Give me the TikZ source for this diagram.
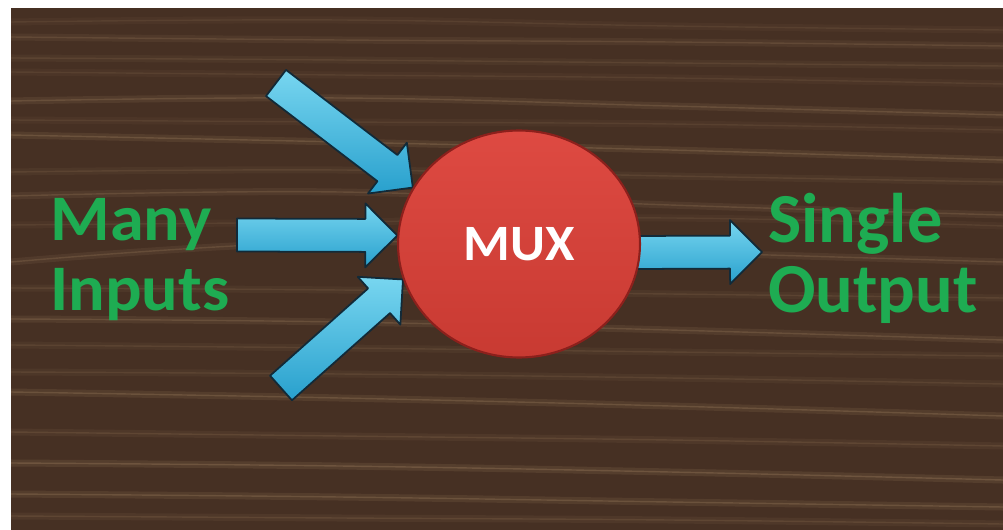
\documentclass[tikz,border=0pt]{standalone}
\usepackage{fontspec}
\setmainfont{Carlito}
\newfontfamily\wide{Carlito}[FakeStretch=1.05]
\usetikzlibrary{calc,shapes.geometric}
\definecolor{wood}{RGB}{70,48,35}
\definecolor{grain}{RGB}{145,116,86}
\definecolor{muxtop}{RGB}{222,74,66}
\definecolor{muxbot}{RGB}{200,58,50}
\definecolor{muxedge}{RGB}{140,32,28}
\definecolor{arrowhi}{RGB}{120,214,240}
\definecolor{arrowlo}{RGB}{40,160,205}
\definecolor{arrowedge}{RGB}{18,42,56}
\definecolor{labelgreen}{RGB}{30,172,82}
\pgfdeclarelayer{board}
\pgfdeclarelayer{under}
\pgfsetlayers{board,under,main}

% fat 3d arrow from #1 to #2
\newcommand\fatarrow[2]{%
  \coordinate (hb) at ($(#2)!0.64cm!(#1)$);
  \shadedraw[fat] ($(#1)!0.33cm!90:(#2)$) -- ($(hb)!0.33cm!90:(#2)$) -- ($(hb)!0.64cm!90:(#2)$)
    -- (#2) -- ($(hb)!0.64cm!-90:(#2)$) -- ($(hb)!0.33cm!-90:(#2)$) -- ($(#1)!0.33cm!-90:(#2)$) -- cycle;
}

\begin{document}
\begin{tikzpicture}[x=0.02cm, y=-0.02cm,
  fat/.style = {top color=arrowhi, bottom color=arrowlo, draw=arrowedge, line width=1pt, line join=round},
  muxball/.style = {ellipse, minimum width=4.84cm, minimum height=4.54cm, inner sep=0pt,
    top color=muxtop, bottom color=muxbot, draw=muxedge, line width=1.2pt,
    text=white, font=\wide\fontsize{29}{30}\selectfont\bfseries},
  biglabel/.style = {anchor=north west, inner sep=0pt, align=left, text=labelgreen},
  grainline/.style = {grain, line width=0.8pt},
  grainglow/.style = {grain, line width=4pt}]
    \useasboundingbox (0,0) rectangle (1003,530);

    %wood board
    \begin{pgfonlayer}{board}
    \fill[white] (0,0) rectangle (1003,530);
    \fill[wood] (11,8) rectangle (1003,530);
    \begin{scope}
    \clip (11,8) rectangle (1003,530);
    \foreach \ya/\yb/\yc/\yd/\op in {22/20/26/30/0.25, 37/40/42/46/0.4, 58/60/63/66/0.3,
        72/75/78/84/0.25, 101/98/106/115/0.5, 120/122/124/130/0.25, 135/142/150/160/0.55,
        172/170/176/182/0.3, 196/192/205/215/0.45, 225/222/218/226/0.25, 262/242/252/262/0.45,
        288/290/294/298/0.3, 319/322/330/340/0.5, 345/348/352/356/0.3, 372/374/378/384/0.3,
        392/398/406/416/0.55, 432/436/440/446/0.35, 463/466/472/480/0.6, 494/497/502/507/0.55,
        516/518/520/524/0.35}
    {
      \pgfmathsetmacro\glow{\op*0.35}
      \pgfmathsetmacro\thin{\op*0.7}
      \draw[grainglow, opacity=\glow] plot[smooth, tension=0.7] coordinates {(11,\ya) (340,\yb) (670,\yc) (1003,\yd)};
      \draw[grainline, opacity=\thin] plot[smooth, tension=0.7] coordinates {(11,\ya) (340,\yb) (670,\yc) (1003,\yd)};
    }
    \end{scope}
    \end{pgfonlayer}

    \node[muxball] (mux) at (519,244) {MUX};

    \coordinate (in1) at (276,83);
    \coordinate (in2) at (237,235);
    \coordinate (in3) at (281,388);
    \coordinate (out) at (762,252);
    \coordinate (outtail) at ($(mux.356)+(-12,0)$);

    %arrows
    \begin{pgfonlayer}{under}
    \fatarrow{in1}{mux.152}
    \fatarrow{in2}{mux.176}
    \fatarrow{in3}{mux.197}
    \fatarrow{outtail}{out}
    \end{pgfonlayer}

    \node[biglabel, font=\wide\fontsize{37}{40}\selectfont\bfseries] (many) at (50,198) {Many\\Inputs};
    \node[biglabel, font=\fontsize{40}{39.7}\selectfont\bfseries] (single) at (768,193) {Single\\Output};

\end{tikzpicture}
\end{document}
